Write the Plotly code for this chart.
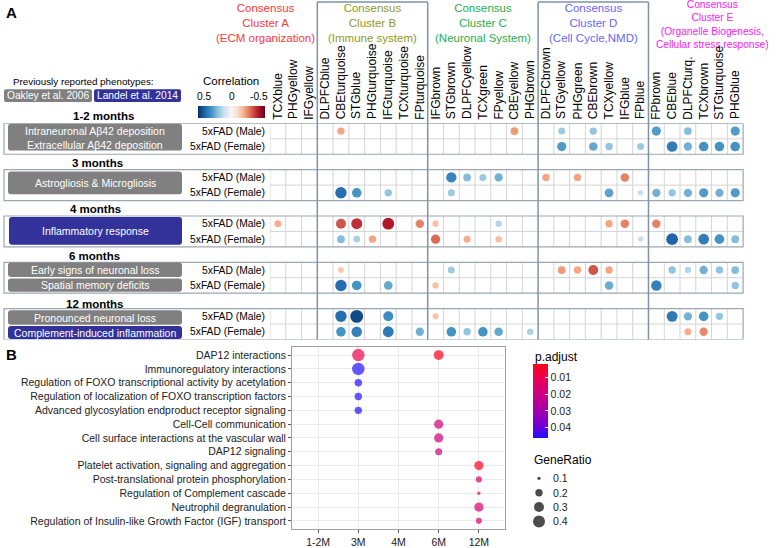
import math
import plotly.graph_objects as go

W, H = 778, 548
FONT = "Liberation Sans, Arial, Helvetica, sans-serif"


def px(x):
    return x / W


def py(y):
    return 1 - y / H


# ----------------------------- DATA : panel A -----------------------------
modules = ["TCXblue", "PHGyellow", "IFGyellow",
           "DLPFCblue", "CBEturquoise", "STGblue", "PHGturquoise", "IFGturquoise", "TCXturquoise", "FPturquoise",
           "IFGbrown", "STGbrown", "DLPFCyellow", "TCXgreen", "FPyellow", "CBEyellow", "PHGbrown",
           "DLPFCbrown", "STGyellow", "PHGgreen", "CBEbrown", "TCXyellow", "IFGblue", "FPblue",
           "FPbrown", "CBEblue", "DLPFCturq.", "TCXbrown", "STGturquoise", "PHGblue"]
cluster_sizes = [3, 7, 7, 7, 6]
cluster_titles = ["Consensus<br>Cluster A<br>(ECM organization)",
                  "Consensus<br>Cluster B<br>(Immune system)",
                  "Consensus<br>Cluster C<br>(Neuronal System)",
                  "Consensus<br>Cluster D<br>(Cell Cycle,NMD)",
                  "Consensus<br>Cluster E<br>(Organelle Biogenesis,<br>Cellular stress response)"]
cluster_colors = ["#F8383C", "#8E9A1D", "#1FAE4D", "#6767F2", "#F522F0"]

age_groups = ["1-2 months", "3 months", "4 months", "6 months", "12 months"]
models = ["5xFAD (Male)", "5xFAD (Female)"]

corr_1_2m_male = {"CBEturquoise": -0.24, "CBEyellow": -0.26, "STGyellow": 0.22, "CBEbrown": 0.24,
                  "FPbrown": 0.34, "DLPFCturq.": 0.26, "PHGblue": 0.34}
corr_1_2m_female = {"STGyellow": 0.34, "CBEbrown": 0.31, "TCXyellow": 0.24, "FPblue": 0.22, "CBEblue": 0.42,
                    "DLPFCturq.": 0.29, "TCXbrown": 0.36, "STGturquoise": 0.36, "PHGblue": 0.36}
corr_3m_male = {"STGbrown": 0.40, "DLPFCyellow": 0.26, "TCXgreen": 0.22, "FPyellow": 0.29,
                "DLPFCbrown": -0.24, "PHGgreen": -0.24, "IFGblue": -0.30}
corr_3m_female = {"CBEturquoise": 0.46, "STGblue": 0.36, "IFGturquoise": 0.24, "STGbrown": 0.22,
                  "TCXyellow": 0.32, "FPblue": 0.14, "FPbrown": 0.29, "CBEblue": 0.24, "DLPFCturq.": 0.29,
                  "TCXbrown": 0.34, "STGturquoise": 0.29, "PHGblue": 0.34}
corr_4m_male = {"TCXblue": -0.22, "CBEturquoise": -0.38, "STGblue": -0.44, "IFGturquoise": -0.48,
                "FPturquoise": -0.30, "IFGbrown": -0.18, "FPyellow": 0.18, "TCXyellow": -0.24,
                "IFGblue": -0.30, "FPbrown": -0.30}
corr_4m_female = {"CBEturquoise": 0.26, "STGblue": 0.20, "PHGturquoise": -0.24, "IFGbrown": -0.34,
                  "DLPFCyellow": -0.22, "FPyellow": -0.19, "FPblue": 0.14, "CBEblue": 0.48,
                  "DLPFCturq.": 0.26, "TCXbrown": 0.42, "STGturquoise": 0.36, "PHGblue": 0.26}
corr_6m_male = {"CBEturquoise": -0.16, "STGbrown": 0.22, "STGyellow": -0.26, "PHGgreen": -0.24,
                "CBEbrown": -0.38, "TCXyellow": -0.24, "CBEblue": 0.24, "DLPFCturq.": 0.18,
                "TCXbrown": 0.29, "STGturquoise": 0.24, "PHGblue": 0.26}
corr_6m_female = {"CBEturquoise": 0.46, "STGblue": 0.36, "IFGturquoise": 0.31, "IFGbrown": -0.18,
                  "TCXyellow": 0.30, "FPbrown": 0.41, "PHGblue": 0.24}
corr_12m_male = {"CBEturquoise": 0.46, "STGblue": 0.54, "IFGturquoise": 0.38, "IFGbrown": -0.17,
                 "CBEblue": 0.43, "DLPFCturq.": 0.29, "TCXbrown": 0.36, "STGturquoise": 0.24}
corr_12m_female = {"CBEturquoise": 0.36, "STGblue": 0.41, "IFGturquoise": 0.43, "FPturquoise": 0.29,
                   "STGbrown": 0.36, "DLPFCyellow": 0.24, "TCXgreen": 0.36, "FPyellow": 0.31,
                   "PHGbrown": 0.19, "DLPFCturq.": -0.22, "TCXbrown": -0.29}
corr_rows = [corr_1_2m_male, corr_1_2m_female, corr_3m_male, corr_3m_female, corr_4m_male,
             corr_4m_female, corr_6m_male, corr_6m_female, corr_12m_male, corr_12m_female]
corr_ticks = [0.5, 0, -0.5]
corr_limit = 0.6

phenotype_texts = [["Intraneuronal Aβ42 deposition<br>Extracellular Aβ42 deposition"],
                   ["Astrogliosis & Microgliosis"],
                   ["Inflammatory response"],
                   ["Early signs of neuronal loss", "Spatial memory deficits"],
                   ["Pronounced neuronal loss", "Complement-induced inflammation"]]
phenotype_source = [["Oakley"], ["Oakley"], ["Landel"], ["Oakley", "Oakley"], ["Oakley", "Landel"]]
source_labels = {"Oakley": "Oakley et al. 2006", "Landel": "Landel et al. 2014"}

# ----------------------------- DATA : panel B -----------------------------
pathways = ["DAP12 interactions", "Immunoregulatory interactions",
            "Regulation of FOXO transcriptional activity by acetylation",
            "Regulation of localization of FOXO transcription factors",
            "Advanced glycosylation endproduct receptor signaling",
            "Cell-Cell communication", "Cell surface interactions at the vascular wall",
            "DAP12 signaling", "Platelet activation, signaling and aggregation",
            "Post-translational protein phosphorylation", "Regulation of Complement cascade",
            "Neutrophil degranulation", "Regulation of Insulin-like Growth Factor (IGF) transport"]
timepoints = ["1-2M", "3M", "4M", "6M", "12M"]
enr_pathway = ["DAP12 interactions", "DAP12 interactions", "Immunoregulatory interactions",
               "Regulation of FOXO transcriptional activity by acetylation",
               "Regulation of localization of FOXO transcription factors",
               "Advanced glycosylation endproduct receptor signaling",
               "Cell-Cell communication", "Cell surface interactions at the vascular wall",
               "DAP12 signaling", "Platelet activation, signaling and aggregation",
               "Post-translational protein phosphorylation", "Regulation of Complement cascade",
               "Neutrophil degranulation", "Regulation of Insulin-like Growth Factor (IGF) transport"]
enr_time = ["3M", "6M", "3M", "3M", "3M", "3M", "6M", "6M", "6M", "12M", "12M", "12M", "12M", "12M"]
enr_padj = [0.010, 0.003, 0.046, 0.046, 0.046, 0.046, 0.019, 0.019, 0.019, 0.004, 0.016, 0.016, 0.016, 0.016]
enr_ratio = [0.43, 0.30, 0.43, 0.20, 0.20, 0.20, 0.27, 0.27, 0.19, 0.27, 0.16, 0.10, 0.27, 0.16]
padj_ticks = [0.01, 0.02, 0.03, 0.04]
padj_range = [0.0022, 0.0464]
ratio_legend = [0.1, 0.2, 0.3, 0.4]

# ----------------------------- geometry / style -----------------------------
GX0, CW = 270.0, 15.77          # grid left edge, cell width (px)
GY0, RH = 124.5, 15.58          # grid top edge, row height (px)
NCOL = len(modules)
NROWS = 3 * len(age_groups) - 1

rdbu = ['#67001f', '#b2182b', '#d6604d', '#f4a582', '#fddbc7', '#f7f7f7',
        '#d1e5f0', '#92c5de', '#4393c3', '#2166ac', '#053061']
rdbu_rev = list(reversed(rdbu))
corr_scale = [[i / (len(rdbu_rev) - 1), c] for i, c in enumerate(rdbu_rev)]
padj_scale = [[0, '#2010FF'], [0.15, '#6A00D8'], [0.37, '#A500AA'], [0.6, '#CC0080'],
              [0.82, '#EC0050'], [1, '#FF0018']]

col_index = {m: i for i, m in enumerate(modules)}

fig = go.Figure()

# grid lines of the heat-dot table
gx, gy = [], []
boundaries = []
acc = 0
for s in cluster_sizes[:-1]:
    acc += s
    boundaries.append(acc)
for g in range(len(age_groups)):
    top, bot = 3 * g - 0.5, 3 * g + 1.5
    for i in range(1, NCOL):
        if i in boundaries:
            continue
        gx += [i - 0.5, i - 0.5, None]
        gy += [top, bot, None]
    gx += [-0.5, -0.5, None, -0.5, NCOL - 0.5, None]
    gy += [top, bot, None, 3 * g + 0.5, 3 * g + 0.5, None]
fig.add_trace(go.Scatter(x=gx, y=gy, mode="lines", line=dict(color="#d4d4d4", width=1),
                         hoverinfo="skip", showlegend=False, xaxis="x", yaxis="y"))

# dots
dx, dy, dc, ds = [], [], [], []
for r, row in enumerate(corr_rows):
    g, s = divmod(r, 2)
    for m, v in row.items():
        dx.append(col_index[m])
        dy.append(3 * g + s)
        dc.append(-v)
        ds.append(3 + 18.3 * abs(v))
fig.add_trace(go.Scatter(
    x=dx, y=dy, mode="markers", xaxis="x", yaxis="y", showlegend=False,
    marker=dict(size=ds, color=dc, colorscale=corr_scale, cmin=-corr_limit, cmax=corr_limit,
                line=dict(width=0), opacity=1,
                colorbar=dict(orientation="h", x=px(231.5), xanchor="center", y=py(113.5), yanchor="middle",
                              len=67, lenmode="pixels", thickness=12, thicknessmode="pixels",
                              outlinewidth=0, showticklabels=False, ticks="", xpad=0, ypad=0))))

# panel B dots
def ratio_size(v):
    return math.sqrt(max(11 + 440 * (v - 0.1), 4))

fig.add_trace(go.Scatter(
    x=enr_time, y=enr_pathway, mode="markers", xaxis="x2", yaxis="y2", showlegend=False,
    marker=dict(size=[ratio_size(v) for v in enr_ratio], color=[-p for p in enr_padj],
                colorscale=padj_scale, cmin=-padj_range[1], cmax=-padj_range[0], line=dict(width=0),
                colorbar=dict(orientation="v", x=px(532.7), xanchor="left", y=py(405), yanchor="middle",
                              len=74, lenmode="pixels", thickness=15, thicknessmode="pixels",
                              outlinewidth=0, xpad=0, ypad=0,
                              tickvals=[-t for t in padj_ticks], ticktext=[f"{t:.2f}" for t in padj_ticks],
                              ticks="inside", ticklen=3, tickcolor="white",
                              tickfont=dict(size=10.5, color="#222", family=FONT)))))

# GeneRatio size legend
fig.add_trace(go.Scatter(
    x=[0] * len(ratio_legend), y=list(range(len(ratio_legend))), mode="markers", xaxis="x3", yaxis="y3",
    showlegend=False, hoverinfo="skip",
    marker=dict(size=[ratio_size(v) for v in ratio_legend], color="black", line=dict(width=0))))

shapes, annotations = [], []


def ann(text, x, y, size=11, color="black", xanchor="center", yanchor="middle", xref="paper", yref="paper",
        angle=0):
    annotations.append(dict(text=text, x=x, y=y, xref=xref, yref=yref, showarrow=False, xanchor=xanchor,
                            yanchor=yanchor, textangle=angle, font=dict(size=size, color=color, family=FONT)))


def rrect(x0, y0, x1, y1, color, r=3.0):
    path = (f"M {px(x0 + r)},{py(y0)} L {px(x1 - r)},{py(y0)} Q {px(x1)},{py(y0)} {px(x1)},{py(y0 + r)} "
            f"L {px(x1)},{py(y1 - r)} Q {px(x1)},{py(y1)} {px(x1 - r)},{py(y1)} "
            f"L {px(x0 + r)},{py(y1)} Q {px(x0)},{py(y1)} {px(x0)},{py(y1 - r)} "
            f"L {px(x0)},{py(y0 + r)} Q {px(x0)},{py(y0)} {px(x0 + r)},{py(y0)} Z")
    shapes.append(dict(type="path", path=path, xref="paper", yref="paper", fillcolor=color,
                       line=dict(width=0), layer="above"))


BOX_COL = {"Oakley": "#808080", "Landel": "#32329A"}

# group outline boxes
for g in range(len(age_groups)):
    shapes.append(dict(type="rect", xref="paper", yref="y", x0=px(4), x1=px(GX0 + NCOL * CW),
                       y0=3 * g - 0.5, y1=3 * g + 1.5, line=dict(color="#9AA7B4", width=1.2),
                       fillcolor="rgba(0,0,0,0)", layer="above"))

# cluster separators and boxes
for b in boundaries:
    shapes.append(dict(type="line", xref="x", yref="paper", x0=b - 0.5, x1=b - 0.5, y0=py(2),
                       y1=py(GY0 + NROWS * RH), line=dict(color="#7F93A6", width=1.5), layer="above"))
for k in (1, 3):
    start = sum(cluster_sizes[:k])
    shapes.append(dict(type="line", xref="x", yref="paper", x0=start - 0.5, x1=start + cluster_sizes[k] - 0.5,
                       y0=py(2), y1=py(2), line=dict(color="#7F93A6", width=1.5), layer="above"))

# cluster titles
title_shift = [-28, 0, 0, 0, 17]
start = 0
for k, (t, c, n) in enumerate(zip(cluster_titles, cluster_colors, cluster_sizes)):
    cx = GX0 + (start + n / 2) * CW + title_shift[k]
    ann(t, px(cx), py(23 if k < 4 else 25), size=11.5 if k < 4 else 10.2, color=c)
    start += n

# column labels
for i, m in enumerate(modules):
    ann(m, i, py(122.5), size=12, xref="x", yanchor="bottom", angle=-90)

# row labels, month headers, phenotype boxes
month_x = [104, 97, 95, 94, 95]
month_y = [117, 164, 211, 258, 307]
pheno_boxes = [[(8, 125, 182, 152)], [(8, 173, 182, 196)], [(9, 219, 182, 247)],
               [(8, 265, 182, 279.5), (8, 281, 182, 294.5)], [(8, 313, 182, 327.8), (8, 329, 182, 342)]]
for g, age in enumerate(age_groups):
    ann(f"<b>{age}</b>", px(month_x[g]), py(month_y[g]), size=11.5)
    for s, mname in enumerate(models):
        ann(mname, px(267), 3 * g + s, size=10.3, xanchor="right", yref="y")
    for text, src, (x0, y0, x1, y1) in zip(phenotype_texts[g], phenotype_source[g], pheno_boxes[g]):
        rrect(x0, y0, x1, y1, BOX_COL[src])
        ann(text, px((x0 + x1) / 2), py((y0 + y1) / 2 + 0.3), size=10.5, color="white")

# previously reported phenotypes legend
ann("Previously reported phenotypes:", px(83), py(82), size=9.8)
rrect(4, 90, 92, 103, BOX_COL["Oakley"], r=2)
rrect(94, 90, 181, 103, BOX_COL["Landel"], r=2)
ann(source_labels["Oakley"], px(48), py(96.8), size=10.2, color="white")
ann(source_labels["Landel"], px(137.5), py(96.8), size=10.2, color="white")

# correlation colorbar labels
ann("Correlation", px(231), py(82), size=11.5)
for t in corr_ticks:
    ann(f"{t:g}", px(231.5 - t / corr_limit * 33.5), py(97), size=10.2)

# panel letters
ann("<b>A</b>", px(4), py(13), size=15, xanchor="left")
ann("<b>B</b>", px(4), py(358), size=15, xanchor="left")

# panel B legends
ann("p.adjust", px(532.5), py(360), size=12, xanchor="left")
ann("GeneRatio", px(531.5), py(464), size=12, xanchor="left")
for j, v in enumerate(ratio_legend):
    ann(f"{v:g}", px(550.5), j, size=10.5, color="#222", xanchor="left", yref="y3")

axis_off = dict(visible=False, showgrid=False, zeroline=False, fixedrange=True)
fig.update_layout(
    width=W, height=H, autosize=False, margin=dict(l=0, r=0, t=0, b=0),
    paper_bgcolor="white", plot_bgcolor="rgba(0,0,0,0)",
    font=dict(family=FONT, color="black"),
    xaxis=dict(axis_off, domain=[px(GX0), px(GX0 + NCOL * CW)], range=[-0.5, NCOL - 0.5]),
    yaxis=dict(axis_off, domain=[py(GY0 + NROWS * RH), py(GY0)], range=[NROWS - 0.5, -0.5]),
    xaxis2=dict(domain=[px(292), px(505)], anchor="y2", type="category", categoryorder="array",
                categoryarray=timepoints, range=[-0.65, len(timepoints) - 0.35],
                showgrid=True, gridcolor="#EBEBEB", gridwidth=1, zeroline=False,
                showline=True, linecolor="#A0A0A0", linewidth=1, mirror=True,
                ticks="outside", ticklen=3, tickcolor="#555",
                tickfont=dict(size=10.5, color="#222", family=FONT)),
    yaxis2=dict(domain=[py(534), py(350)], anchor="x2", type="category", categoryorder="array",
                categoryarray=pathways, range=[len(pathways) - 0.4, -0.6],
                showgrid=True, gridcolor="#EBEBEB", gridwidth=1, zeroline=False,
                showline=True, linecolor="#A0A0A0", linewidth=1, mirror=True,
                ticks="outside", ticklen=3, tickcolor="#555",
                tickfont=dict(size=10.5, color="#222", family=FONT)),
    xaxis3=dict(axis_off, domain=[px(532), px(546)], range=[-0.5, 0.5], anchor="y3"),
    yaxis3=dict(axis_off, domain=[py(533.5), py(475.5)], range=[len(ratio_legend) - 0.5, -0.5], anchor="x3"),
    shapes=shapes, annotations=annotations, showlegend=False,
)

fig.write_html("out.html", config={"displayModeBar": False},
               post_script="document.body.style.margin='0';document.body.style.overflow='hidden';")
